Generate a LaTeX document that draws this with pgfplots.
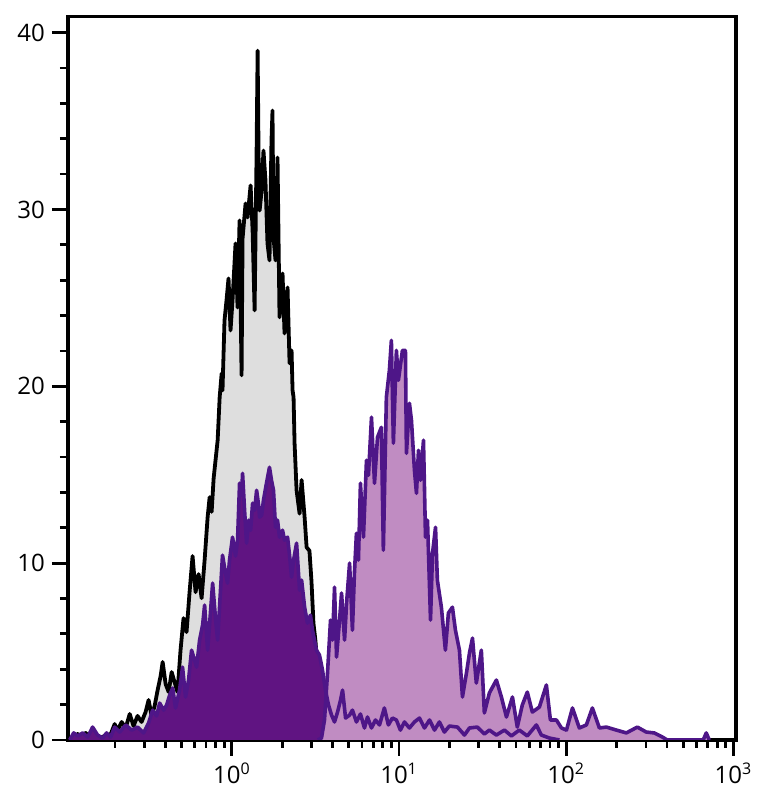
\documentclass[border=0pt]{standalone}
\usepackage{fontspec}
\setmainfont{Open Sans}
\usepackage{pgfplots}
\usepackage{pgfplotstable}
\pgfplotsset{compat=1.18}

\definecolor{ctrlgray}{RGB}{222,222,222}
\definecolor{darkfill}{RGB}{96,20,130}
\definecolor{purpline}{RGB}{78,22,136}
\definecolor{lavfill}{RGB}{192,140,194}

% x = log10(fluorescence), y = count
\pgfplotstableread{
e v
-0.940 0
-0.922 0.34
-0.898 0.17
-0.874 0.40
-0.851 0.11
-0.821 0.28
-0.791 0.11
-0.761 0.23
-0.731 0.17
-0.701 0.90
-0.683 0.56
-0.659 1.02
-0.635 0.68
-0.611 1.47
-0.588 0.79
-0.564 1.36
-0.540 1.02
-0.516 1.58
-0.498 2.26
-0.480 1.36
-0.462 1.92
-0.444 2.82
-0.426 3.62
-0.414 4.41
-0.396 3.16
-0.378 2.71
-0.360 3.84
-0.343 3.28
-0.325 2.71
-0.307 5.08
-0.289 6.89
-0.271 6.10
-0.253 8.36
-0.235 10.40
-0.217 8.36
-0.199 9.38
-0.181 8.02
-0.163 10.17
-0.145 12.60
-0.133 13.73
-0.121 12.90
-0.109 14.80
-0.085 16.95
-0.073 19.38
-0.061 20.73
-0.056 19.77
-0.044 23.73
-0.032 24.86
-0.020 26.10
-0.008 23.16
0.004 24.86
0.022 28.08
0.034 24.46
0.046 29.38
0.058 20.62
0.064 28.36
0.082 30.34
0.094 29.55
0.112 31.36
0.124 28.81
0.136 24.29
0.148 33.33
0.154 38.98
0.160 32.77
0.166 29.94
0.178 31.07
0.189 33.33
0.201 31.64
0.213 28.08
0.225 27.12
0.237 33.90
0.243 35.59
0.249 28.42
0.261 27.12
0.273 32.94
0.285 23.90
0.303 26.38
0.315 22.99
0.333 25.59
0.345 21.30
0.357 22.03
0.363 19.77
0.369 19.38
0.375 16.78
0.387 14.12
0.405 12.80
0.417 14.70
0.435 12.60
0.447 10.90
0.464 10.70
0.476 9.00
0.488 6.60
0.500 5.60
0.512 4.10
0.524 4.00
0.542 2.30
0.560 1.20
0.584 0.56
0.608 0.17
0.644 0
}\ctrl

\pgfplotstableread{
e v
-0.970 0
-0.946 0.40
-0.922 0.23
-0.892 0.40
-0.862 0.17
-0.833 0.73
-0.803 0.28
-0.773 0.11
-0.749 0.40
-0.725 0.17
-0.701 0.73
-0.671 0.45
-0.635 0.85
-0.599 0.56
-0.564 0.73
-0.528 0.40
-0.498 0.96
-0.474 1.69
-0.450 1.36
-0.432 2.09
-0.408 1.69
-0.390 1.98
-0.372 2.54
-0.354 2.94
-0.337 1.81
-0.313 2.82
-0.295 4.12
-0.277 2.43
-0.259 3.39
-0.241 5.08
-0.223 4.52
-0.211 4.12
-0.193 5.65
-0.175 6.50
-0.163 7.63
-0.145 5.08
-0.127 7.34
-0.115 8.87
-0.097 6.78
-0.085 5.65
-0.068 8.47
-0.056 10.45
-0.038 9.44
-0.026 8.87
-0.014 10.17
0.004 11.47
0.022 10.40
0.034 11.30
0.046 14.52
0.058 13.84
0.064 15.08
0.076 12.99
0.088 11.13
0.100 12.43
0.112 11.86
0.124 13.39
0.136 12.99
0.148 14.12
0.160 13.28
0.166 12.60
0.178 12.71
0.189 13.56
0.207 14.52
0.225 15.42
0.237 14.69
0.249 14.12
0.261 12.03
0.273 12.43
0.285 11.47
0.303 11.86
0.315 11.30
0.333 11.47
0.345 10.45
0.357 9.21
0.369 10.17
0.387 11.13
0.405 8.47
0.417 9.04
0.435 7.51
0.452 6.61
0.470 7.06
0.482 6.21
0.494 5.65
0.506 5.08
0.524 4.80
0.542 3.95
0.560 2.82
0.578 1.98
0.596 1.41
0.614 1.02
0.632 1.58
0.650 2.26
0.662 2.82
0.680 1.24
0.704 1.41
0.721 1.69
0.745 1.02
0.769 1.47
0.793 0.68
0.811 1.30
0.835 0.68
0.859 1.13
0.883 0.85
0.912 1.81
0.936 0.85
0.960 1.24
0.984 1.13
1.008 0.56
1.032 1.02
1.062 0.68
1.092 1.02
1.122 1.24
1.152 0.68
1.182 1.13
1.212 0.56
1.241 1.02
1.271 0.45
1.301 0.79
1.349 0.73
1.391 0.28
1.421 0.68
1.468 0.73
1.510 0.34
1.540 0.56
1.582 0.28
1.630 0.56
1.672 0.23
1.719 0.56
1.767 0.23
1.821 0.85
1.851 0.28
1.899 0.11
1.959 0
}\low

\pgfplotstableread{
e v
0.514 0
0.536 0.11
0.554 1.13
0.572 3.79
0.590 6.78
0.602 5.65
0.614 8.64
0.626 4.69
0.644 6.78
0.656 8.31
0.674 5.65
0.686 7.74
0.704 10.00
0.721 6.21
0.733 9.44
0.745 11.69
0.757 10.17
0.769 14.52
0.787 11.47
0.805 15.82
0.817 14.97
0.835 18.25
0.853 14.52
0.871 17.12
0.894 17.68
0.906 10.73
0.924 19.38
0.942 20.90
0.954 22.60
0.966 16.78
0.984 22.03
0.996 20.34
1.020 22.03
1.038 22.03
1.044 16.21
1.062 19.04
1.074 18.08
1.092 15.25
1.104 13.95
1.116 16.38
1.128 14.69
1.146 16.95
1.158 11.47
1.170 12.43
1.188 6.78
1.200 10.56
1.218 12.03
1.229 9.04
1.253 7.51
1.277 5.08
1.295 7.18
1.319 7.51
1.337 6.21
1.361 5.08
1.379 2.43
1.403 3.79
1.421 4.92
1.439 5.76
1.462 3.22
1.492 5.08
1.510 1.53
1.540 2.66
1.582 3.39
1.612 2.43
1.642 1.30
1.678 2.43
1.707 0.73
1.737 1.98
1.767 2.71
1.797 1.58
1.839 1.86
1.881 3.11
1.905 1.13
1.941 1.13
1.971 0.68
2.001 0.56
2.037 1.81
2.078 0.68
2.120 0.85
2.156 1.81
2.198 0.68
2.240 0.73
2.300 0.56
2.359 0.40
2.425 0.73
2.478 0.45
2.526 0.40
2.574 0.17
2.604 0
2.819 0
2.837 0.40
2.855 0
}\high

\begin{document}
\begin{tikzpicture}
\useasboundingbox (-34pt,-34pt) rectangle (347pt,370pt);
\begin{axis}[
  scale only axis,
  width=334pt, height=361.65pt,
  xmin=-0.98, xmax=3.015,
  ymin=0, ymax=40.9,
  axis line style={line width=1.6pt},
  tick style={black, line width=1.4pt},
  tick align=outside,
  major tick length=8pt, minor tick length=4pt,
  xtick pos=bottom, ytick pos=left,
  xtick={0,1,2,3},
  xticklabels={10\textsuperscript{0},10\textsuperscript{1},10\textsuperscript{2},10\textsuperscript{3}},
  minor xtick={-0.699,-0.523,-0.398,-0.301,-0.222,-0.155,-0.097,-0.046,
    0.301,0.477,0.602,0.699,0.778,0.845,0.903,0.954,
    1.301,1.477,1.602,1.699,1.778,1.845,1.903,1.954,
    2.301,2.477,2.602,2.699,2.778,2.845,2.903,2.954},
  ytick={0,10,20,30,40},
  yticklabels={0,10,20,30,40},
  minor y tick num=4,
  tick label style={font=\fontsize{12}{14}\selectfont},
]
\addplot[fill=ctrlgray, draw=black, line width=1.9pt, line join=round] table[x=e,y=v] {\ctrl} \closedcycle;
\addplot[fill=darkfill, draw=none] table[x=e,y=v] {\low} \closedcycle;
\addplot[fill=lavfill, draw=none] table[x=e,y=v] {\high} \closedcycle;
\addplot[draw=purpline, line width=1.8pt, line join=round] table[x=e,y=v] {\low};
\addplot[draw=purpline, line width=1.8pt, line join=round] table[x=e,y=v] {\high};
\end{axis}
\end{tikzpicture}
\end{document}
